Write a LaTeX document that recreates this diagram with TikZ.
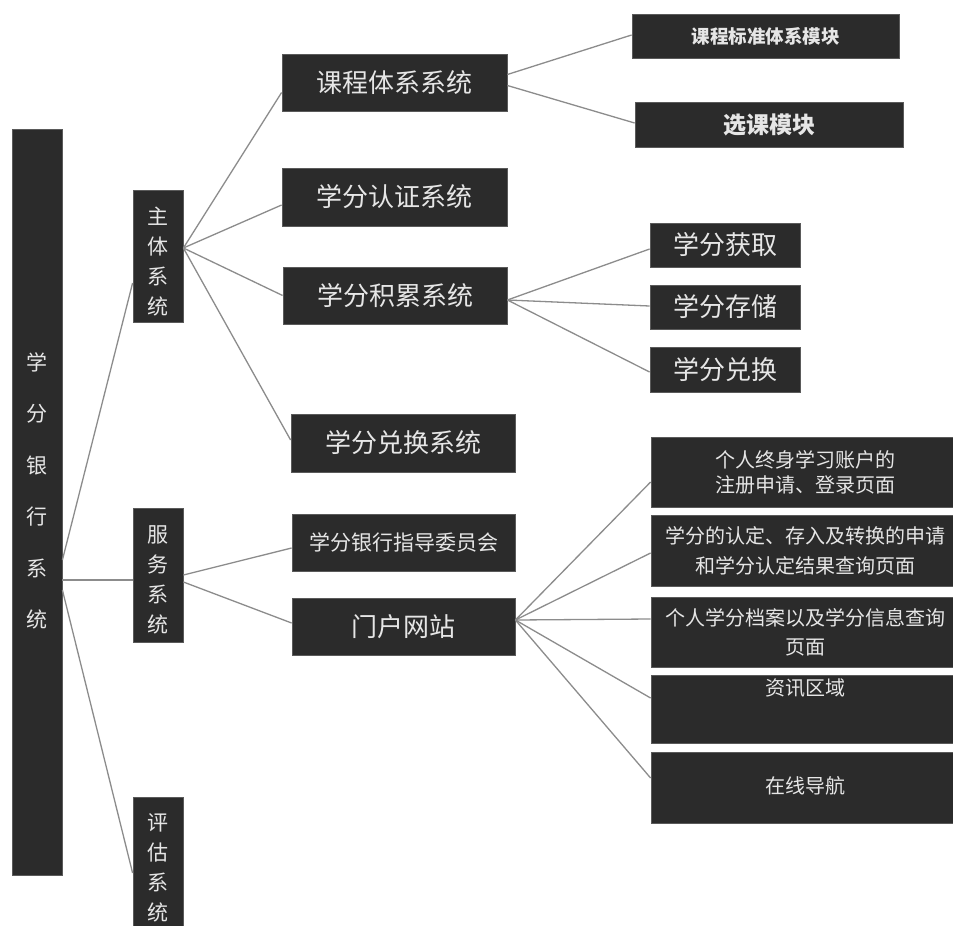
\documentclass[tikz,border=0pt]{standalone}
\usepackage{fontspec}
\setmainfont{Noto Sans CJK SC}
\usetikzlibrary{calc}
\definecolor{boxfill}{HTML}{2B2B2B}
\definecolor{boxedge}{HTML}{5A5A5A}
\definecolor{boxtext}{HTML}{E6E6E6}
\definecolor{linkgray}{HTML}{8C8C8C}
\tikzset{
  darkbox/.style={draw=boxedge, fill=boxfill, line width=0.8pt, text=boxtext, inner sep=0pt, align=center},
  vlabel/.style={text=boxtext, inner sep=0pt, align=center},
  link/.style={draw=linkgray, line width=1.3pt},
}
\newcommand{\fs}[2]{\fontsize{#1}{#2}\selectfont}
\begin{document}
\begin{tikzpicture}[x=1pt,y=-1pt]
\clip (0,0) rectangle (953,926);
\fill[white] (0,0) rectangle (953,926);

% level 0 and 1 (vertical boxes)
\node[darkbox, minimum width=50pt, minimum height=746pt] (root) at (37,502) {};
\node[vlabel, font=\fs{21}{51.5}] (rootlab) at (37,491) {学\\分\\银\\行\\系\\统};

\node[darkbox, minimum width=50pt, minimum height=132pt] (zhuti) at (158,256) {};
\node[vlabel, font=\fs{21}{30}] (zhutilab) at (158,262) {主\\体\\系\\统};

\node[darkbox, minimum width=50pt, minimum height=134pt] (fuwu) at (158,575) {};
\node[vlabel, font=\fs{21}{30}] (fuwulab) at (158,580) {服\\务\\系\\统};

\node[darkbox, minimum width=50pt, minimum height=143pt] (pinggu) at (158,868.5) {};
\node[vlabel, font=\fs{21}{30}] (pinggulab) at (158,868) {评\\估\\系\\统};

% level 2
\node[darkbox, minimum width=225pt, minimum height=57pt, font=\fs{26}{30}] (kecheng) at (394.5,82.5) {课程体系系统};
\node[darkbox, minimum width=225pt, minimum height=58pt, font=\fs{26}{30}] (renzheng) at (394.5,197) {学分认证系统};
\node[darkbox, minimum width=224pt, minimum height=57pt, font=\fs{26}{30}] (jilei) at (395,295.5) {学分积累系统};
\node[darkbox, minimum width=224pt, minimum height=58pt, font=\fs{26}{30}] (duihuan) at (403,443) {学分兑换系统};
\node[darkbox, minimum width=223pt, minimum height=57pt, font=\fs{21}{26}] (zhidao) at (403.5,542.5) {学分银行指导委员会};
\node[darkbox, minimum width=223pt, minimum height=57pt, font=\fs{26}{30}] (menhu) at (403.5,626.5) {门户网站};

% level 3
\node[darkbox, minimum width=267pt, minimum height=44pt, font=\bfseries\fs{18.5}{22}] (kcbz) at (765.5,36) {课程标准体系模块};
\node[darkbox, minimum width=268pt, minimum height=45pt, font=\bfseries\fs{23}{26}] (xuanke) at (769,124.5) {选课模块};
\node[darkbox, minimum width=150pt, minimum height=44pt, font=\fs{26}{30}] (huoqu) at (725,245) {学分获取};
\node[darkbox, minimum width=150pt, minimum height=44pt, font=\fs{26}{30}] (cunchu) at (725,307) {学分存储};
\node[darkbox, minimum width=150pt, minimum height=45pt, font=\fs{26}{30}] (duihuan2) at (725,369.5) {学分兑换};

\node[darkbox, minimum width=308pt, minimum height=70pt, font=\fs{20}{25}] (p1) at (805,472) {个人终身学习账户的\\注册申请、登录页面};
\node[darkbox, minimum width=308pt, minimum height=71pt, font=\fs{20}{30}] (p2) at (805,550.5) {学分的认定、存入及转换的申请\\和学分认定结果查询页面};
\node[darkbox, minimum width=308pt, minimum height=70pt, font=\fs{20}{29}] (p3) at (805,632) {个人学分档案以及学分信息查询\\页面};
\node[darkbox, minimum width=308pt, minimum height=68pt, font=\fs{20}{28}] (p4) at (805,709) {资讯区域\\[16pt]\mbox{}};
\node[darkbox, minimum width=308pt, minimum height=71pt, font=\fs{20}{28}] (p5) at (805,787.5) {\raisebox{6pt}{在线导航}};

% connectors
\draw[link] ($(root.east)+(0,58)$) -- ($(zhuti.west)+(0,27)$);
\draw[link] ($(root.east)+(0,78)$) -- ($(fuwu.west)+(0,5)$);
\draw[link] ($(root.east)+(0,88)$) -- ($(pinggu.west)+(0,4.5)$);

\draw[link] ($(zhuti.east)+(0,-8)$) -- ($(kecheng.west)+(0,10)$);
\draw[link] ($(zhuti.east)+(0,-8)$) -- ($(renzheng.west)+(0,8)$);
\draw[link] ($(zhuti.east)+(0,-8)$) -- (jilei.west);
\draw[link] ($(zhuti.east)+(0,-8)$) -- ($(duihuan.west)+(0,-3)$);

\draw[link] ($(kecheng.east)+(0,-8)$) -- ($(kcbz.west)+(0,-1)$);
\draw[link] ($(kecheng.east)+(0,3)$) -- ($(xuanke.west)+(0,-1.5)$);

\draw[link] ($(jilei.east)+(0,4.5)$) -- ($(huoqu.west)+(0,4)$);
\draw[link] ($(jilei.east)+(0,4.5)$) -- ($(cunchu.west)+(0,-1)$);
\draw[link] ($(jilei.east)+(0,4.5)$) -- ($(duihuan2.west)+(0,2.5)$);

\draw[link] (fuwu.east) -- ($(zhidao.west)+(0,5.5)$);
\draw[link] ($(fuwu.east)+(0,7)$) -- ($(menhu.west)+(0,-3.5)$);

\draw[link] ($(menhu.east)+(0,-6.5)$) -- ($(p1.west)+(0,10)$);
\draw[link] ($(menhu.east)+(0,-6.5)$) -- ($(p2.west)+(0,2.5)$);
\draw[link] ($(menhu.east)+(0,-6.5)$) -- ($(p3.west)+(0,-13)$);
\draw[link] ($(menhu.east)+(0,-6.5)$) -- ($(p4.west)+(0,-11)$);
\draw[link] ($(menhu.east)+(0,-6.5)$) -- ($(p5.west)+(0,-9.5)$);
\end{tikzpicture}
\end{document}
